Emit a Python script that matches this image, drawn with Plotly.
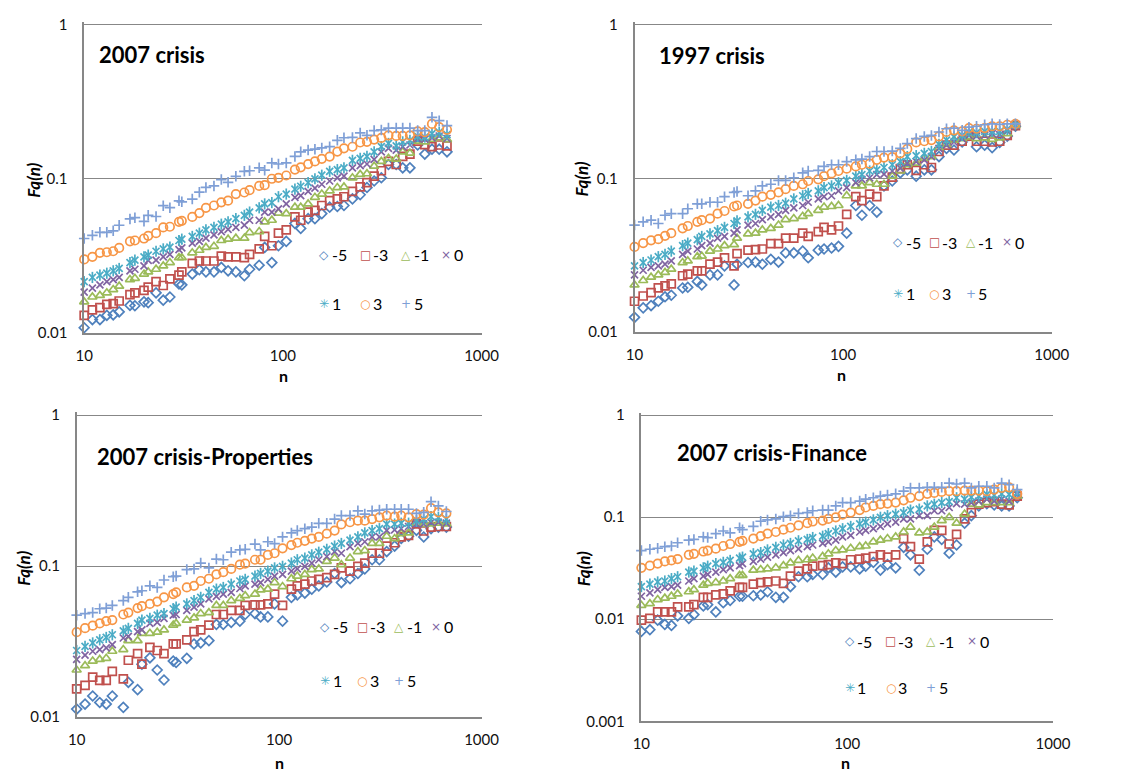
import plotly.graph_objects as go

# ---------------- data ----------------
N = [10, 11, 12, 13, 14, 15, 17, 18, 20, 21, 23, 25, 27, 30, 31, 35, 38, 41, 45, 49,
     53, 58, 64, 68, 76, 81, 88, 95, 104, 115, 123, 134, 145, 157, 172, 188, 203, 224,
     245, 265, 288, 313, 340, 372, 401, 436, 477, 518, 563, 612, 670]

SERIES_LABELS = ["-5", "-3", "-1", "0", "1", "3", "5"]
PANEL_TITLES = ["2007 crisis", "1997 crisis", "2007 crisis-Properties", "2007 crisis-Finance"]
X_TICKS = [10, 100, 1000]
X_TICK_TEXT = ["10", "100", "1000"]
Y_TICKS_2DEC = [0.01, 0.1, 1]
Y_TICK_TEXT_2DEC = ["0.01", "0.1", "1"]
Y_TICKS_3DEC = [0.001, 0.01, 0.1, 1]
Y_TICK_TEXT_3DEC = ["0.001", "0.01", "0.1", "1"]
Y_TITLE = "Fq(n)"
X_TITLE = "n"

# Panel 1: 2007 crisis
P1_M5 = [.0108, .0122, .0122, .0130, .0131, .0137, .0151, .0150, .0159, .0157, .0182, .0163, .0171, .0208, .0205,
         .0241, .0257, .0249, .0249, .0266, .0253, .0249, .0235, .0259, .0275, .0359, .0286, .0368, .0393, .0514,
         .0477, .0552, .0552, .0595, .0655, .0662, .0672, .0741, .0789, .0879, .0969, .1017, .124, .124, .118,
         .118, .166, .145, .156, .156, .150]
P1_M3 = [.0130, .0141, .0146, .0153, .0155, .0161, .0177, .0182, .0189, .0198, .0215, .0203, .0224, .0237, .0249,
         .0283, .0293, .0293, .0293, .0315, .0312, .0312, .0308, .0323, .0351, .0423, .0368, .0444, .0466, .0566,
         .0539, .0609, .0624, .0672, .0722, .0741, .0766, .0829, .0887, .0946, .1043, .113, .130, .124, .140,
         .145, .176, .167, .162, .166, .164]
P1_M1 = [.0159, .0171, .0175, .0182, .0191, .0201, .0222, .0226, .0241, .0249, .0259, .0272, .0286, .0308, .0308,
         .0331, .0344, .0359, .0365, .0398, .0406, .0412, .0412, .0448, .0455, .0526, .0539, .0600, .0595, .0655,
         .0655, .0688, .0759, .0797, .0837, .0879, .0887, .1017, .107, .108, .121, .130, .136, .1345, .150,
         .147, .176, .174, .181, .185, .180]
P1_Q0 = [.0184, .0195, .0205, .0215, .0222, .0229, .0253, .0259, .0272, .0296, .0297, .0312, .0323, .0347, .0356,
         .0383, .0393, .0412, .0433, .0455, .0470, .0484, .0501, .0539, .0539, .0609, .0609, .0639, .0688, .0759,
         .0778, .0829, .0870, .0923, .0969, .1017, .1043, .118, .122, .125, .134, .150, .158, .154, .162,
         .166, .183, .181, .185, .190, .183]
P1_P1 = [.0215, .0229, .0237, .0244, .0253, .0262, .0286, .0297, .0312, .0320, .0339, .0351, .0361, .0398, .0406,
         .0423, .0444, .0466, .0484, .0508, .0526, .0552, .0580, .0609, .0649, .0688, .0702, .0766, .0797, .0857,
         .0896, .0946, .1002, .1057, .112, .115, .118, .132, .136, .140, .150, .162, .170, .164, .174,
         .178, .189, .187, .197, .2015, .194]
P1_P3 = [.0300, .0312, .0331, .0334, .0339, .0356, .0393, .0398, .0410, .0427, .0444, .0484, .0489, .0526, .0534,
         .0566, .0600, .0649, .0672, .0705, .0722, .0797, .0816, .0845, .0900, .0910, .1002, .1017, .1052, .1149,
         .1189, .1249, .1299, .1350, .1397, .1504, .1579, .1618, .1724, .1741, .1801, .1845, .1919, .1901, .1901,
         .1919, .2035, .2015, .2277, .2169, .2085]
P1_P5 = [.041, .043, .045, .045, .046, .050, .055, .056, .053, .058, .057, .067, .065, .072, .071,
         .074, .082, .088, .090, .099, .095, .104, .112, .113, .118, .114, .127, .125, .127, .140,
         .150, .154, .156, .159, .162, .178, .185, .186, .199, .192, .206, .208, .214, .214, .214,
         .214, .206, .206, .251, .239, .222]

# Panel 2: 1997 crisis
P2_M5 = [.0125, .0144, .0149, .0159, .0170, .0174, .0194, .0196, .0214, .0203, .0236, .0236, .0270, .0203, .0277,
         .0284, .0286, .0277, .0298, .0286, .0328, .0328, .0337, .0305, .0342, .0348, .0353, .0362, .0441, .0668,
         .0577, .0668, .0605, .0896, .0964, .109, .114, .1037, .114, .114, .139, .157, .1535, .173, .191,
         .161, .165, .159, .172, .189, .219]
P2_M3 = [.0159, .0172, .0181, .0194, .0200, .0206, .0233, .0239, .0251, .0251, .0277, .0286, .0305, .0270, .0325,
         .0342, .0345, .0348, .0377, .0377, .0409, .0409, .0441, .0420, .0452, .0481, .0463, .0491, .0585, .0762,
         .0719, .0793, .0762, .0896, .1022, .116, .123, .113, .123, .118, .150, .165, .165, .175, .189,
         .175, .175, .173, .175, .191, .221]
P2_M1 = [.0203, .0217, .0228, .0236, .0245, .0257, .0284, .0291, .0310, .0313, .0337, .0348, .0366, .0371, .0409,
         .0436, .0441, .0463, .0474, .0498, .0541, .0549, .0568, .0591, .0621, .0652, .0658, .0668, .0773, .0896,
         .0896, .0940, .0918, .0918, .1037, .112, .123, .126, .136, .139, .159, .167, .178, .182, .187,
         .182, .184, .180, .184, .196, .221]
P2_Q0 = [.0236, .0253, .0264, .0270, .0277, .0291, .0321, .0337, .0348, .0366, .0380, .0409, .0420, .0441, .0463,
         .0498, .0510, .0541, .0563, .0585, .0621, .0645, .0668, .0701, .0737, .0762, .0773, .0832, .0874, .0940,
         .0988, .1012, .106, .107, .112, .117, .126, .129, .1325, .139, .157, .165, .173, .182, .191,
         .189, .191, .196, .193, .206, .221]
P2_P1 = [.0270, .0284, .0295, .0310, .0321, .0337, .0366, .0380, .0400, .0420, .0436, .0458, .0481, .0510, .0531,
         .0563, .0585, .0621, .0652, .0668, .0691, .0737, .0773, .0800, .0832, .0874, .0896, .0940, .0973, .1037,
         .106, .112, .114, .118, .123, .129, .139, .141, .146, .150, .167, .178, .187, .191, .201,
         .199, .203, .203, .203, .209, .224]
P2_P3 = [.0359, .0380, .0396, .0403, .0424, .0441, .0474, .0491, .0523, .0536, .0549, .0591, .0615, .0658, .0668,
         .0685, .0719, .0762, .0784, .0812, .0853, .0896, .0918, .0964, .0988, .1037, .108, .112, .116, .120,
         .123, .125, .1325, .137, .138, .146, .156, .172, .175, .178, .188, .201, .206, .203, .213,
         .211, .213, .219, .219, .224, .227]
P2_P5 = [.0498, .0523, .0536, .0510, .0577, .0591, .0591, .0636, .0685, .0685, .0701, .0701, .0762, .0812, .0824,
         .0773, .0832, .0896, .0918, .0973, .0973, .1012, .109, .112, .113, .120, .123, .123, .129, .1325,
         .134, .139, .150, .150, .151, .157, .169, .182, .188, .191, .201, .211, .213, .206, .216,
         .219, .224, .227, .225, .227, .227]

# Panel 3: 2007 crisis-Properties
P3_M5 = [.0113, .0122, .0138, .0125, .0122, .0138, .0116, .0170, .0152, .0224, .0247, .0205, .0176, .0235, .0230,
         .0245, .0305, .0310, .0321, .0411, .0411, .0424, .0432, .0478, .0485, .0461, .0461, .0562, .0432, .0621,
         .0644, .0663, .0704, .0740, .0785, .0894, .0778, .0825, .0894, .0958, .1102, .1102, .1248, .1358, .1523,
         .1577, .1726, .156, .1768, .1813, .1813]
P3_M3 = [.0154, .0162, .0184, .0175, .0175, .0201, .0179, .0238, .0263, .0224, .0290, .0276, .0263, .0305, .0305,
         .0325, .0368, .0378, .0407, .0478, .0478, .0509, .0509, .0549, .0554, .0554, .0562, .0653, .0549, .0704,
         .0740, .0759, .0797, .0817, .0838, .0881, .0973, .0926, .0997, .1048, .1217, .1217, .1358, .1428, .156,
         .160, .1905, .1708, .1813, .183, .183]
P3_M1 = [.0205, .0219, .0235, .0241, .0245, .0273, .0280, .0321, .0321, .0359, .0359, .0365, .0378, .0407, .0417,
         .0439, .0454, .0485, .0492, .0549, .0549, .0591, .0612, .0637, .0653, .0697, .0704, .0778, .0732, .0825,
         .0859, .0881, .0949, .0958, .1075, .113, .1022, .113, .1248, .1267, .1413, .1413, .1577, .1523, .164,
         .1658, .1925, .1888, .1905, .1925, .1905]
P3_Q0 = [.0241, .0257, .0273, .0280, .0287, .0302, .0334, .0342, .0368, .0378, .0417, .0424, .0450, .0473, .0478,
         .0509, .0535, .0562, .0606, .0631, .0653, .0670, .0711, .0740, .0759, .0778, .0817, .0859, .0881, .0926,
         .0958, .0997, .1048, .1102, .1158, .1248, .1217, .1345, .1413, .145, .156, .156, .1726, .174, .1768,
         .183, .1905, .1905, .1953, .1953, .1925]
P3_P1 = [.0276, .0294, .0310, .0325, .0337, .0351, .0372, .0387, .0417, .0439, .0450, .0473, .0485, .0522, .0535,
         .0562, .0591, .0621, .0670, .0704, .0722, .0759, .0797, .0817, .0859, .0894, .0926, .0973, .0997, .1048,
         .1102, .113, .1187, .1236, .1292, .1358, .1413, .1486, .156, .166, .172, .177, .190, .190, .1925,
         .1925, .200, .205, .2127, .2104, .205]
P3_P3 = [.0365, .0388, .0403, .0417, .0432, .0439, .0478, .0492, .0527, .0543, .0562, .0582, .0621, .0653, .0670,
         .0722, .0740, .0797, .0825, .0881, .0912, .0958, .1022, .1038, .1102, .1102, .1187, .1217, .1312, .1379,
         .1428, .1471, .1523, .156, .164, .172, .189, .1953, .200, .200, .205, .2104, .216, .2127, .216,
         .2104, .2213, .219, .242, .227, .2235]
P3_P5 = [.0473, .0485, .0492, .0522, .0527, .0549, .0591, .0621, .0676, .0687, .0740, .0722, .0809, .0851, .0859,
         .0949, .0958, .1048, .0973, .1113, .1102, .1236, .128, .1292, .140, .128, .145, .141, .156, .166,
         .172, .177, .181, .192, .192, .205, .216, .216, .2325, .221, .2325, .235, .238, .238, .238,
         .238, .2235, .227, .267, .2505, .230]

# Panel 4: 2007 crisis-Finance
P4_M5 = [.0076, .0079, .0098, .0089, .0087, .0108, .0102, .0111, .0135, .0139, .0118, .0145, .0153, .0168, .0168,
         .0170, .0173, .0186, .0164, .0164, .0209, .0261, .0261, .0275, .0275, .0319, .0290, .0326, .0326, .0312,
         .0331, .0361, .0303, .0343, .0319, .0507, .0428, .0303, .0485, .0641, .0605, .0444, .0534, .0874, .1035,
         .129, .136, .132, .129, .129, .155]
P4_M3 = [.0098, .0102, .0118, .0118, .0118, .0132, .0132, .0139, .0164, .0164, .0173, .0177, .0190, .0205, .0205,
         .0221, .0229, .0232, .0237, .0225, .0265, .0296, .0312, .0331, .0335, .0343, .0356, .0351, .0383, .0389,
         .0398, .0412, .0428, .0406, .0428, .0618, .0514, .0389, .0574, .0743, .0743, .0546, .0680, .0962, .111,
         .134, .139, .142, .134, .132, .161]
P4_M1 = [.0137, .0142, .0156, .0161, .0168, .0177, .0186, .0195, .0216, .0225, .0229, .0237, .0250, .0269, .0269,
         .0303, .0307, .0312, .0319, .0335, .0356, .0377, .0383, .0398, .0412, .0438, .0471, .0478, .0496, .0514,
         .0522, .0574, .0596, .0618, .0641, .0716, .080, .0701, .0716, .080, .0927, .0998, .0874, .1074, .134,
         .132, .139, .139, .139, .139, .161]
P4_Q0 = [.0168, .0181, .0195, .0205, .0209, .0216, .0237, .0250, .0265, .0275, .0290, .0307, .0319, .0335, .0351,
         .0369, .0389, .0406, .0428, .0450, .0471, .0489, .0514, .0534, .0553, .0574, .0596, .0641, .0665, .0716,
         .0743, .0771, .0812, .0861, .0894, .0962, .0962, .1035, .1035, .1156, .1156, .1245, .136, .134, .139,
         .144, .150, .144, .150, .144, .167]
P4_P1 = [.0209, .0221, .0232, .0237, .0250, .0261, .0290, .0296, .0319, .0331, .0351, .0361, .0377, .0398, .0406,
         .0438, .0450, .0478, .0507, .0534, .0553, .0587, .0605, .0632, .0651, .0690, .0732, .0771, .0812, .0861,
         .0894, .0941, .0998, .1035, .1074, .111, .1173, .120, .129, .134, .139, .142, .155, .150, .1575,
         .161, .167, .1646, .1696, .167, .173]
P4_P3 = [.0319, .0335, .0351, .0369, .0377, .0389, .0428, .0438, .0461, .0471, .0492, .0522, .0546, .0574, .0587,
         .0618, .0651, .0690, .0716, .0754, .0788, .0830, .0874, .0907, .0927, .0962, .0998, .1058, .111, .1173,
         .1245, .129, .134, .136, .139, .1463, .155, .161, .1696, .173, .177, .180, .180, .1825, .1825,
         .1825, .180, .1866, .1935, .1964, .1696]
P4_P5 = [.0471, .0485, .0496, .0514, .0522, .0562, .0596, .0605, .0641, .0632, .0690, .0732, .0701, .0788, .0754,
         .0812, .0913, .0941, .0962, .1012, .1035, .109, .111, .1156, .1173, .1173, .129, .139, .139, .144,
         .150, .155, .161, .1646, .1696, .180, .1935, .1935, .1964, .1964, .1964, .216, .2114, .216, .1935,
         .201, .201, .1935, .216, .2084, .1866]

PANEL_SERIES = [
    [P1_M5, P1_M3, P1_M1, P1_Q0, P1_P1, P1_P3, P1_P5],
    [P2_M5, P2_M3, P2_M1, P2_Q0, P2_P1, P2_P3, P2_P5],
    [P3_M5, P3_M3, P3_M1, P3_Q0, P3_P1, P3_P3, P3_P5],
    [P4_M5, P4_M3, P4_M1, P4_Q0, P4_P1, P4_P3, P4_P5],
]

# ---------------- style / layout ----------------
W, H = 1141, 777
FONT = "Lato"
COLORS = ["#4F81BD", "#C0504D", "#9BBB59", "#8064A2", "#4BACC6", "#F79646", "#7F9FD6"]
SYMBOLS = ["diamond-open", "square-open", "triangle-up-open", "x-thin-open", "x-thin-open",
           "circle-open", "cross-thin-open"]
SIZES = [7.5, 8, 8, 7, 7, 8.5, 7.5]
GLYPHS = ["\u25C7", "\u25A1", "\u25B3", "\u00D7", "\u2733", "\u25CB", "+"]
AXIS_GREY = "#878787"
TOP_PAD = 0.02  # small headroom (in decades) so the gridline at 1 lies inside the range

# plot boxes in px: (left, right, top, bottom) -- top is where the value 1 sits
PANEL_BOX = [(77, 484, 17.3, 331.7), (640.7, 1068, 17.3, 331),
             (69.3, 484, 415.7, 724), (647.7, 1069.3, 415.7, 728.3)]
TITLE_POS = [(90, 47), (664, 49), (88, 458), (682, 454)]
YTITLE_POS = [(25, 176), (586, 175), (15, 572), (588, 573)]
XTITLE_POS = [(281, 375), (853, 374), (277, 770), (857, 770)]
# legend: first glyph x, row1 y, row2 y, column step
LEGEND_POS = [(323, 252, 302, 41.7), (910.7, 239, 292, 37.1),
              (324, 631.7, 686.7, 37.7), (861, 646.7, 694, 41.9)]


def fx(x):
    return x / W


def fy(y):
    return 1 - y / H


fig = go.Figure()
annotations = []
layout_axes = {}

for p in range(4):
    k = "" if p == 0 else str(p + 1)
    xa, ya = "x" + k, "y" + k
    for s in range(7):
        fig.add_trace(go.Scatter(
            x=N, y=PANEL_SERIES[p][s], mode="markers", xaxis=xa, yaxis=ya,
            name=SERIES_LABELS[s], showlegend=False, cliponaxis=False,
            marker=dict(symbol=SYMBOLS[s], size=SIZES[s], color=COLORS[s],
                        line=dict(width=1.7, color=COLORS[s]))))
        if s == 4:  # star marker: x with a vertical stroke
            fig.add_trace(go.Scatter(
                x=N, y=PANEL_SERIES[p][s], mode="markers", xaxis=xa, yaxis=ya,
                name=SERIES_LABELS[s], showlegend=False, cliponaxis=False,
                marker=dict(symbol="line-ns-open", size=8, color=COLORS[s],
                            line=dict(width=1.7, color=COLORS[s]))))

    l, r, t, b = PANEL_BOX[p]
    four_dec = p == 3
    n_dec = 3 if four_dec else 2
    dec_px = (b - t) / n_dec
    t_ext = t - TOP_PAD * dec_px
    layout_axes["xaxis" + k] = dict(
        domain=[fx(l), fx(r)], anchor=ya, type="log", range=[1, 3],
        tickvals=X_TICKS, ticktext=X_TICK_TEXT, showline=True, linecolor=AXIS_GREY,
        linewidth=1.5, showgrid=False, zeroline=False, ticks="", ticklabelstandoff=8,
        tickfont=dict(family=FONT, size=15, color="#111"))
    layout_axes["yaxis" + k] = dict(
        domain=[fy(b), fy(t_ext)], anchor=xa, type="log",
        range=[-n_dec, TOP_PAD],
        tickvals=Y_TICKS_3DEC if four_dec else Y_TICKS_2DEC,
        ticktext=Y_TICK_TEXT_3DEC if four_dec else Y_TICK_TEXT_2DEC,
        showline=True, linecolor=AXIS_GREY, linewidth=1.5, showgrid=True,
        gridcolor=AXIS_GREY, gridwidth=1.3, zeroline=False, ticks="",
        ticklabelstandoff=12, tickfont=dict(family=FONT, size=15, color="#111"))

    tx, ty = TITLE_POS[p]
    annotations.append(dict(
        text="<b>" + PANEL_TITLES[p] + "</b>", x=fx(tx), y=fy(ty), xref="paper", yref="paper",
        xanchor="left", yanchor="middle", showarrow=False,
        font=dict(family=FONT, size=22, color="#000")))
    yx, yy = YTITLE_POS[p]
    annotations.append(dict(
        text="<b><i>" + Y_TITLE + "</i></b>", x=fx(yx), y=fy(yy), xref="paper", yref="paper",
        xanchor="center", yanchor="middle", textangle=-90, showarrow=False,
        font=dict(family=FONT, size=17, color="#000")))
    nx, ny = XTITLE_POS[p]
    annotations.append(dict(
        text="<b>" + X_TITLE + "</b>", x=fx(nx), y=fy(ny), xref="paper", yref="paper",
        xanchor="center", yanchor="middle", showarrow=False,
        font=dict(family=FONT, size=16, color="#000")))

    gx0, r1, r2, step = LEGEND_POS[p]
    for s in range(7):
        col = s if s < 4 else s - 4
        gy = r1 if s < 4 else r2
        gx = gx0 + col * step
        annotations.append(dict(
            text=GLYPHS[s], x=fx(gx), y=fy(gy), xref="paper", yref="paper",
            xanchor="center", yanchor="middle", showarrow=False,
            font=dict(family="DejaVu Sans", size=12, color=COLORS[s])))
        annotations.append(dict(
            text=SERIES_LABELS[s], x=fx(gx + 6), y=fy(gy), xref="paper", yref="paper",
            xanchor="left", yanchor="middle", showarrow=False,
            font=dict(family=FONT, size=16, color="#000")))

fig.update_layout(
    width=W, height=H, margin=dict(l=0, r=0, t=0, b=0),
    paper_bgcolor="white", plot_bgcolor="white", showlegend=False,
    annotations=annotations, **layout_axes)

# remove the browser's default 8px body margin so the figure fills the window exactly
fig.write_html("out.html",
               post_script="document.body.style.margin='0';document.body.style.overflow='hidden';")
